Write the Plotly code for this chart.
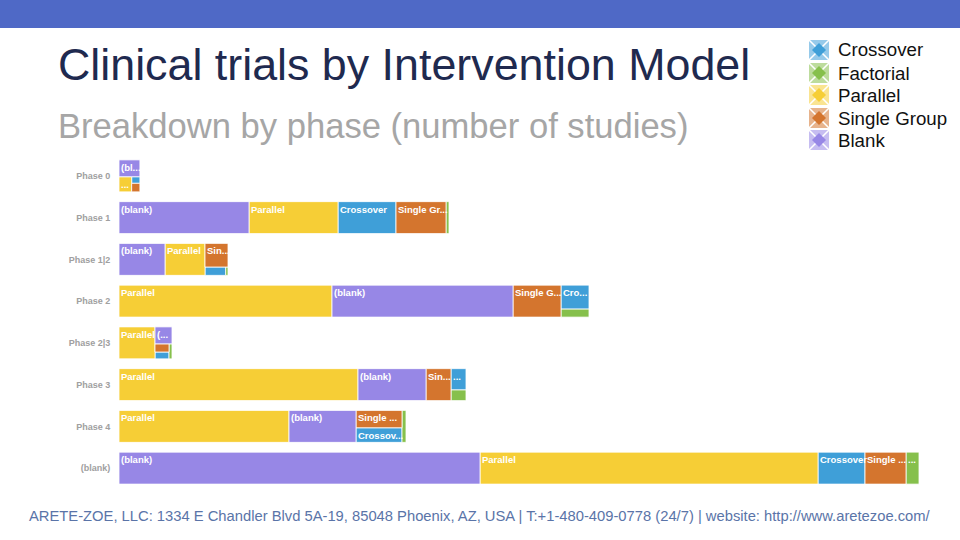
# Clinical trials by intervention model: treemap-like bars per phase
import plotly.graph_objects as go

# data (number of studies)
phases = ["Phase 0", "Phase 1", "Phase 1|2", "Phase 2", "Phase 2|3", "Phase 3", "Phase 4", "(blank)"]
crossover = [1.7, 58, 5.4, 21, 3, 10, 21, 47]
factorial = [0, 3, 0.6, 7, 1.4, 5, 4, 13]
parallel = [6, 89, 40, 213, 36, 239, 170, 338]
single_group = [2.2, 50, 17, 48, 3.6, 25, 25, 41]
blank = [11, 130, 46, 181, 9, 68, 67, 361]

# truncated labels as shown inside the cells
crossover_labels = ["", "Crossover", "", "Cro...", "", "...", "Crossov...", "Crossover"]
factorial_labels = ["", "", "", "", "", "", "", "..."]
parallel_labels = ["...", "Parallel", "Parallel", "Parallel", "Parallel", "Parallel", "Parallel", "Parallel"]
single_labels = ["", "Single Gr...", "Sin...", "Single G...", "", "Sin...", "Single ...", "Single ..."]
blank_labels = ["(bl...", "(blank)", "(blank)", "(blank)", "(...", "(blank)", "(blank)", "(blank)"]

C, F, P, S, B = "Crossover", "Factorial", "Parallel", "Single Group", "Blank"
values = {C: crossover, F: factorial, P: parallel, S: single_group, B: blank}
labels = {C: crossover_labels, F: factorial_labels, P: parallel_labels, S: single_labels, B: blank_labels}
colors = {C: "#3f9fd8", F: "#86c04c", P: "#f6ce36", S: "#d4752e", B: "#9787e6"}
legend_names = [C, F, P, S, B]

# how the cells nest in each bar: lists alternate side by side / on top of each other
nesting = [
    [[B, [P, [C, S]]]],
    [B, P, C, S, F],
    [B, P, [S, [C, F]]],
    [P, B, S, [C, F]],
    [P, [B, [[S, C], F]]],
    [P, B, S, [C, F]],
    [P, B, [S, C], F],
    [B, P, C, S, F],
]

BAR_HEIGHT = 0.766
W, H = 960, 540


def total(node, i):
    if isinstance(node, str):
        return values[node][i]
    return sum(total(n, i) for n in node)


def place(node, i, x0, y0, w, h, side_by_side, cells):
    if isinstance(node, str):
        cells[node].append((i, x0, y0, w, h))
        return
    node_total = total(node, i)
    for child in node:
        share = total(child, i) / node_total
        if side_by_side:
            place(child, i, x0, y0, w * share, h, False, cells)
            x0 += w * share
        else:
            place(child, i, x0, y0, w, h * share, True, cells)
            y0 += h * share


cells = {name: [] for name in legend_names}
for i, tree in enumerate(nesting):
    place(tree, i, 0, i - BAR_HEIGHT / 2, total(tree, i), BAR_HEIGHT, True, cells)

fig = go.Figure()
for name in legend_names:
    rows = cells[name]
    fig.add_trace(go.Bar(
        orientation="h",
        name=name,
        x=[r[3] for r in rows],
        base=[r[1] for r in rows],
        y=[r[2] + r[4] / 2 for r in rows],
        width=[r[4] for r in rows],
        marker=dict(color=colors[name], line=dict(color="#ffffff", width=0.8)),
        showlegend=False,
        hoverinfo="name+x",
    ))

for name in legend_names:
    rows = cells[name]
    fig.add_trace(go.Scatter(
        mode="text",
        x=[r[1] + 2 for r in rows],
        y=[r[2] + 0.09 for r in rows],
        text=[labels[name][r[0]] for r in rows],
        textposition="bottom right",
        textfont=dict(family="Liberation Sans", size=9.5, color="#ffffff", weight=700),
        showlegend=False,
        hoverinfo="skip",
        cliponaxis=False,
    ))


def px(x):
    return x / W


def py(y):
    return 1 - y / H


shapes = [dict(type="rect", xref="paper", yref="paper", x0=0, x1=1, y0=py(28), y1=1,
               fillcolor="#4f69c6", line_width=0, layer="below")]
annotations = []


def add_text(text, x, y, size, color, family="Liberation Sans"):
    annotations.append(dict(text=text, xref="paper", yref="paper", x=px(x), y=py(y),
                            xanchor="left", yanchor="middle", showarrow=False,
                            font=dict(family=family, size=size, color=color)))


add_text("Clinical trials by Intervention Model", 56, 64, 44.8, "#1f2a4f")
add_text("Breakdown by phase (number of studies)", 56, 126, 34.6, "#a6a6a6")
add_text("ARETE-ZOE, LLC: 1334 E Chandler Blvd 5A-19, 85048 Phoenix, AZ, USA | T:+1-480-409-0778 (24/7) | website: http://www.aretezoe.com/",
         27, 516, 14.75, "#5a74a8")

# legend: tinted square, white cross and a diamond, as in the picture
legend_y = [50, 73, 95, 118, 140]
for name, y in zip(legend_names, legend_y):
    cx, r = 819, 10
    shapes.append(dict(type="rect", xref="paper", yref="paper", x0=px(cx - r), x1=px(cx + r),
                       y0=py(y + r), y1=py(y - r), fillcolor=colors[name], opacity=0.55, line_width=0))
    for d in (1, -1):
        shapes.append(dict(type="line", xref="paper", yref="paper", x0=px(cx - r), x1=px(cx + r),
                           y0=py(y + r * d), y1=py(y - r * d), line=dict(color="#ffffff", width=1.6)))
    path = "M {} {} L {} {} L {} {} L {} {} Z".format(
        px(cx - 7), py(y), px(cx), py(y - 7), px(cx + 7), py(y), px(cx), py(y + 7))
    shapes.append(dict(type="path", xref="paper", yref="paper", path=path,
                       fillcolor=colors[name], line_width=0))
    add_text("Blank" if name == B else name, 836, y, 18.7, "#111111")

fig.update_layout(
    width=W, height=H,
    autosize=False,
    margin=dict(l=0, r=0, t=0, b=0),
    paper_bgcolor="#ffffff",
    plot_bgcolor="#ffffff",
    barmode="overlay",
    shapes=shapes,
    annotations=annotations,
    xaxis=dict(domain=[119 / W, 1], range=[0, 841], visible=False),
    yaxis=dict(
        domain=[py(489), py(155)],
        range=[7.5, -0.5],
        tickmode="array",
        tickvals=list(range(len(phases))),
        ticktext=phases,
        ticks="outside",
        ticklen=6,
        tickcolor="rgba(0,0,0,0)",
        tickfont=dict(family="Liberation Sans", size=9, color="#a0a0a0", weight=700),
        showgrid=False,
        zeroline=False,
        showline=False,
    ),
)

# the browser's default page margin would push the chart 8px in
fig.write_html("out.html", config=dict(displayModeBar=False),
               post_script="document.body.style.margin = '0';")
